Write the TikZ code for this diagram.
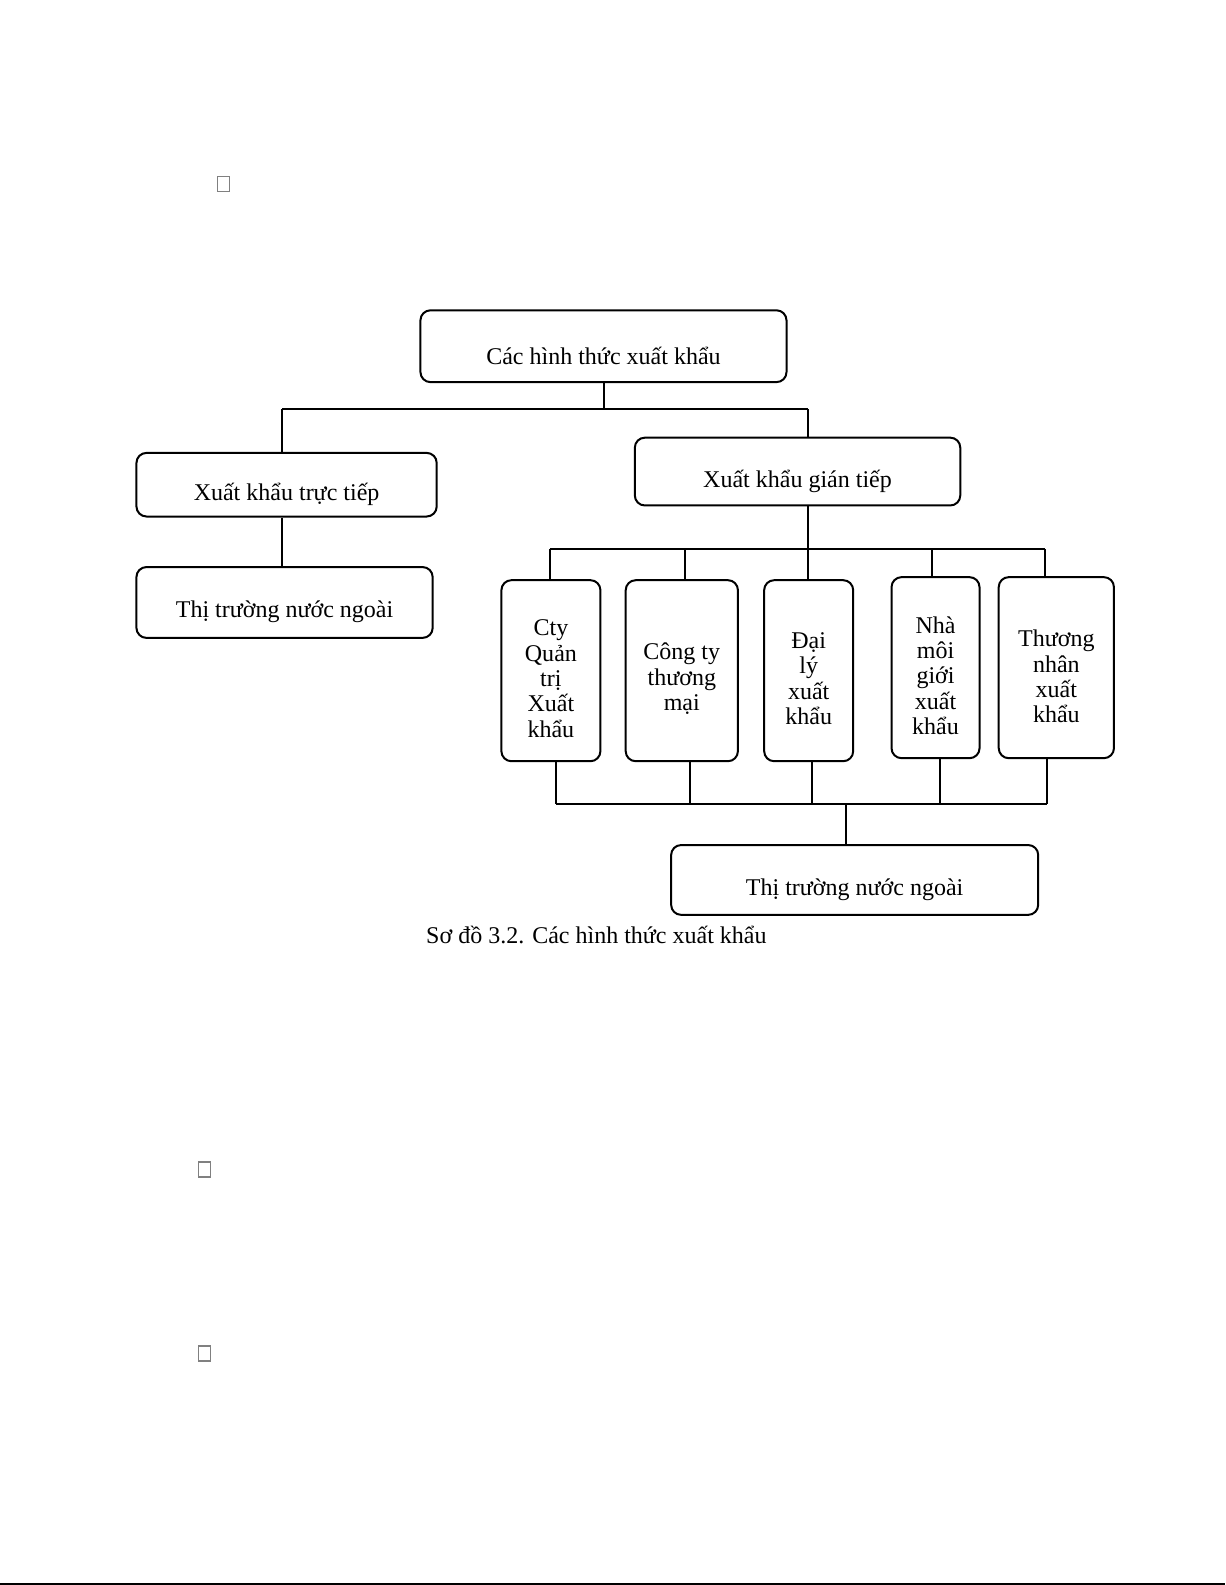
\documentclass[tikz,border=0pt]{standalone}
\usepackage{fontspec}
\setmainfont{Liberation Serif}
\begin{document}
\begin{tikzpicture}[x=0.50536pt,y=-0.50536pt,
    box/.style={draw,rounded corners=5pt,line width=1pt,inner sep=0pt},
    txt/.style={align=center,inner sep=0pt,font=\fontsize{12}{12.7}\selectfont},
    link/.style={line width=1pt},
    tofu/.style={draw=gray,line width=0.6pt,minimum width=6pt,minimum height=7.5pt,inner sep=0pt}]
    \useasboundingbox (0,0) rectangle (1212,1568);
    % boxes
    \node[box,minimum width=183pt,minimum height=35.9pt] (top) at (597,342.5) {};
    \node[box,minimum width=150.1pt,minimum height=31.8pt] (direct) at (283.5,479.5) {};
    \node[box,minimum width=148.1pt,minimum height=35.4pt] (marketL) at (281.5,596) {};
    \node[box,minimum width=162.7pt,minimum height=33.9pt] (indirect) at (789,466.5) {};
    \node[box,minimum width=49.5pt,minimum height=90.5pt] (b1) at (545,663.5) {};
    \node[box,minimum width=56.1pt,minimum height=90.5pt] (b2) at (674.5,663.5) {};
    \node[box,minimum width=44.5pt,minimum height=90.5pt] (b3) at (800,663.5) {};
    \node[box,minimum width=44pt,minimum height=90.5pt] (b4) at (925.5,660.5) {};
    \node[box,minimum width=57.6pt,minimum height=90.5pt] (b5) at (1045,660.5) {};
    \node[box,minimum width=183.5pt,minimum height=34.9pt] (marketR) at (845.5,870.5) {};
    % texts
    \node[txt] (top-t) at ([yshift=-5pt]top.center) {Các hình thức xuất khẩu};
    \node[txt] (direct-t) at ([yshift=-5pt]direct.center) {Xuất khẩu trực tiếp};
    \node[txt] (marketL-t) at ([yshift=-4.5pt]marketL.center) {Thị trường nước ngoài};
    \node[txt] (indirect-t) at ([yshift=-5pt]indirect.center) {Xuất khẩu gián tiếp};
    \node[txt] (b1-t) at ([yshift=-4pt]b1.center) {Cty\\Quản\\trị\\Xuất\\khẩu};
    \node[txt] (b2-t) at ([yshift=-4pt]b2.center) {Công ty\\thương\\mại};
    \node[txt] (b3-t) at ([yshift=-4pt]b3.center) {Đại\\lý\\xuất\\khẩu};
    \node[txt] (b4-t) at ([yshift=-4pt]b4.center) {Nhà\\môi\\giới\\xuất\\khẩu};
    \node[txt] (b5-t) at ([yshift=-4.5pt]b5.center) {Thương\\nhân\\xuất\\khẩu};
    \node[txt] (marketR-t) at ([yshift=-5pt]marketR.center) {Thị trường nước ngoài};
    \node[txt] (caption) at (590,925) {Sơ đồ 3.2. Các hình thức xuất khẩu};
    % junctions
    \coordinate (jL) at (279,405);
    \coordinate (jR) at (799,405);
    \coordinate (kL) at (544,543);
    \coordinate (kR) at (1034,543);
    \coordinate (mL) at (550,795);
    \coordinate (mR) at (1036,795);
    % connectors
    \draw[link] (top.south -| 598,0) -- (598,405);
    \draw[link] (jL) -- (jR);
    \draw[link] (jL) -- (jL |- direct.north);
    \draw[link] (jR) -- (jR |- indirect.north);
    \draw[link] (jL |- direct.south) -- (jL |- marketL.north);
    \draw[link] (jR |- indirect.south) -- (jR |- b3.north);
    \draw[link] (kL) -- (kR);
    \draw[link] (kL) -- (kL |- b1.north);
    \draw[link] (678,543) -- (678,0 |- b2.north);
    \draw[link] (922,543) -- (922,0 |- b4.north);
    \draw[link] (kR) -- (kR |- b5.north);
    \draw[link] (mL |- b1.south) -- (mL);
    \draw[link] (683,0 |- b2.south) -- (683,795);
    \draw[link] (803,0 |- b3.south) -- (803,795);
    \draw[link] (930,0 |- b4.south) -- (930,795);
    \draw[link] (mR |- b5.south) -- (mR);
    \draw[link] (mL) -- (mR);
    \draw[link] (837,795) -- (837,0 |- marketR.north);
    % missing glyphs and page rule
    \node[tofu] (g1) at (221,182) {};
    \node[tofu] (g2) at (202,1157) {};
    \node[tofu] (g3) at (202,1339) {};
    \draw[line width=1pt] (0,1567) -- (1212,1567);
\end{tikzpicture}
\end{document}
